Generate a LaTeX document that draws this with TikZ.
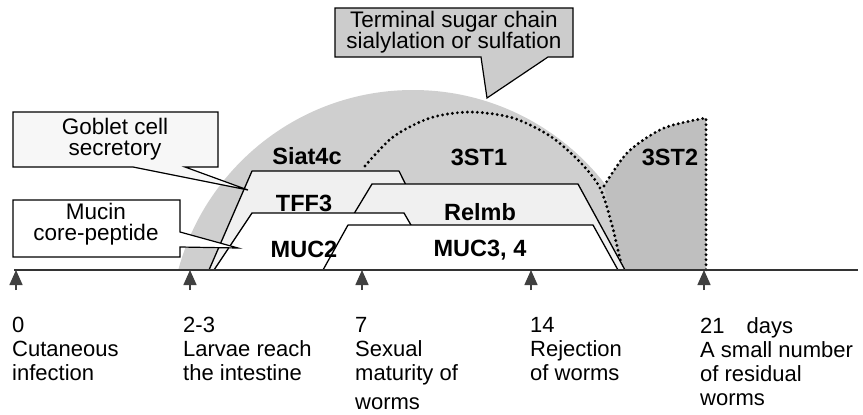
\documentclass[tikz,border=0pt]{standalone}
\usepackage{fontspec}
\setmainfont{Liberation Sans}
\usetikzlibrary{arrows.meta,positioning,calc}

\begin{document}
\begin{tikzpicture}[>=Latex, x=1pt, y=-1pt]
  \tikzstyle{dome}=[fill=gray!38]
  \tikzstyle{darkdome}=[fill=gray!50]
  \tikzstyle{band}=[draw, line width=1.3pt, line join=round]
  \tikzstyle{dots}=[line width=3.2pt, dash pattern=on 0pt off 5pt, line cap=round]
  \tikzstyle{gene}=[font=\fontsize{23.5}{24}\selectfont\bfseries, inner sep=0pt]
  \tikzstyle{callout}=[draw, line width=1.2pt, line join=miter]
  \tikzstyle{calltext}=[font=\fontsize{22.5}{21}\selectfont, align=center, inner sep=0pt]
  \tikzstyle{daytext}=[anchor=north west, font=\fontsize{22}{24}\selectfont, align=left, inner sep=0pt]
  \tikzstyle{tick}=[-{Triangle[width=13pt,length=15pt]}, line width=1.5pt, black!75]

  \useasboundingbox (0,0) rectangle (863,415);

  % Sugar chain domes
  \begin{scope}
    \clip (0,0) rectangle (863,270);
    \fill[dome] (413,333) circle (243pt);
  \end{scope}
  \fill[darkdome] (623,270) -- (613,228) -- plot[smooth] coordinates {(604,186) (628,152) (664,128) (706,118)} -- (706,270) -- cycle;
  \draw[dots] plot[smooth] coordinates {(365,166) (393,137) (430,118) (470,112) (513,118) (550,136) (580,162) (600,188) (612,225) (622,268)};
  \draw[dots] plot[smooth] coordinates {(604,186) (628,152) (664,128) (706,118)} -- (706,270);

  % Expression bands
  \draw[band, fill=gray!12] (209,270) -- (252,171) -- (399,171) -- (448,270);
  \draw[band, fill=gray!12] (320,270) -- (372,184) -- (578,184) -- (625,270);
  \draw[band, fill=white] (214,270) -- (252,213) -- (404,213) -- (437,270);
  \draw[band, fill=white] (323,270) -- (348,225) -- (593,225) -- (618,270);

  \node[gene] (siat) at (307,156) {Siat4c};
  \node[gene] (st1) at (479,157) {3ST1};
  \node[gene] (st2) at (670,157) {3ST2};
  \node[gene] (tff) at (304,203) {TFF3};
  \node[gene] (relmb) at (480,212) {Relmb};
  \node[gene] (muc2) at (304,249) {MUC2};
  \node[gene] (muc34) at (480,250) {MUC3, 4};

  % Callouts
  \draw[callout, fill=gray!40] (335,8) -- (573,8) -- (573,57) -- (548,57) -- (487,98) -- (481,57) -- (335,57) -- cycle;
  \node[calltext] (sugar) at (454,32) {Terminal sugar chain\\sialylation or sulfation};
  \draw[callout, fill=gray!6] (13,112) -- (218,112) -- (218,167) -- (185,167) -- (248,190) -- (133,167) -- (13,167) -- cycle;
  \node[calltext] (goblet) at (115,139) {Goblet cell\\secretory};
  \draw[callout, fill=white] (13,200) -- (180,200) -- (180,232) -- (238,248) -- (180,247) -- (180,257) -- (13,257) -- cycle;
  \node[calltext] (mucin) at (96,224) {Mucin\\core-peptide};

  % Time axis
  \coordinate (t0) at (16,270);
  \coordinate (t1) at (190,270);
  \coordinate (t2) at (362,270);
  \coordinate (t3) at (531,270);
  \coordinate (t4) at (704,270);
  \draw[line width=1.5pt, black!80] (14,270) -- (858,270);
  \draw[tick] ([yshift=-20pt]t0) -- (t0);
  \draw[tick] ([yshift=-20pt]t1) -- (t1);
  \draw[tick] ([yshift=-20pt]t2) -- (t2);
  \draw[tick] ([yshift=-20pt]t3) -- (t3);
  \draw[tick] ([yshift=-20pt]t4) -- (t4);

  \node[daytext] (day0) at (12,317) {0\\Cutaneous\\infection};
  \node[daytext] (day2) at (183,317) {2-3\\Larvae reach\\the intestine};
  \node[daytext] (day7) at (355,317) {7\\Sexual\\maturity of};
  \node[daytext, anchor=base west] (day7b) at (355,409) {worms};
  \node[daytext] (day14) at (530,317) {14\\Rejection\\of worms};
  \node[daytext] (day21) at (700,317) {21\hspace{22pt}days\\A small number\\of residual\\worms};
\end{tikzpicture}
\end{document}
